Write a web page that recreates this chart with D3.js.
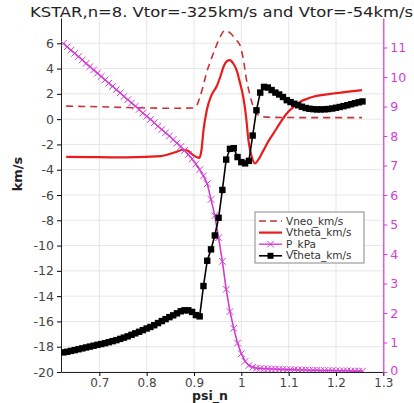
<!DOCTYPE html>
<html><head><meta charset="utf-8">
<script src="https://cdn.jsdelivr.net/npm/d3@7"></script>
<style>
body{margin:0;background:#fff;}
svg{display:block;font-family:"DejaVu Sans",sans-serif;}
</style></head>
<body>
<svg id="chart" width="414" height="403"></svg>
<script>
const titleText = "KSTAR,n=8. Vtor=-325km/s and Vtor=-54km/s";
const xTicks = [0.7, 0.8, 0.9, 1.0, 1.1, 1.2, 1.3];
const xTickLabels = ["0.7", "0.8", "0.9", "1", "1.1", "1.2", "1.3"];
const yLeftTicks = [-20, -18, -16, -14, -12, -10, -8, -6, -4, -2, 0, 2, 4, 6];
const yRightTicks = [0, 1, 2, 3, 4, 5, 6, 7, 8, 9, 10, 11];
const legendLabels = ["Vneo_km/s", "Vtheta_km/s", "P_kPa", "Vtheta_km/s"];

// Vneo (dashed red)
const vneoPsi = [0.630,0.700,0.780,0.850,0.898,0.906,0.912,0.919,0.926,0.934,0.945,0.955,0.966,0.977,0.988,0.997,1.004,1.011,1.017,1.022,1.030,1.040,1.060,1.150,1.255];
const vneoVal = [1.03,0.98,0.90,0.86,0.88,1.10,1.70,2.56,3.60,4.50,5.60,6.50,7.02,6.80,6.30,5.86,4.80,3.10,2.10,1.37,0.60,0.24,0.15,0.12,0.12];

// Vtheta (solid red)
const vthPsi = [0.630,0.680,0.730,0.780,0.830,0.860,0.877,0.887,0.897,0.905,0.911,0.916,0.920,0.927,0.937,0.948,0.956,0.963,0.970,0.976,0.983,0.990,0.997,1.004,1.010,1.015,1.022,1.029,1.036,1.047,1.058,1.068,1.082,1.096,1.110,1.124,1.138,1.152,1.173,1.194,1.222,1.255];
const vthVal = [-2.98,-3.00,-3.02,-3.00,-2.92,-2.62,-2.42,-2.50,-2.80,-3.00,-3.06,-2.40,-0.90,0.70,1.90,2.60,3.40,4.20,4.60,4.67,4.40,3.88,2.90,1.77,0.20,-1.66,-2.98,-3.50,-3.20,-2.45,-1.70,-1.13,-0.30,0.45,0.95,1.37,1.60,1.77,1.92,2.03,2.15,2.30];

// shared grid for marker series
const gridPsi = [0.624,0.632,0.640,0.648,0.656,0.664,0.672,0.680,0.688,0.696,0.704,0.712,0.720,0.728,0.736,0.744,0.752,0.760,0.768,0.776,0.784,0.792,0.800,0.808,0.816,0.824,0.832,0.840,0.848,0.856,0.864,0.872,0.880,0.888,0.896,0.904,0.912,0.920,0.928,0.936,0.944,0.952,0.960,0.968,0.976,0.984,0.992,1.000,1.008,1.016,1.024,1.032,1.040,1.048,1.056,1.064,1.072,1.080,1.088,1.096,1.104,1.112,1.120,1.128,1.136,1.144,1.152,1.160,1.168,1.176,1.184,1.192,1.200,1.208,1.216,1.224,1.232,1.240,1.248,1.256];

// P_kPa (magenta, right axis)
const pVal = [11.14,11.02,10.91,10.80,10.69,10.58,10.46,10.35,10.24,10.13,10.02,9.90,9.79,9.68,9.57,9.46,9.34,9.23,9.12,9.01,8.90,8.78,8.67,8.56,8.45,8.33,8.22,8.11,8.00,7.88,7.76,7.64,7.51,7.37,7.22,7.05,6.86,6.65,6.38,5.85,5.30,4.55,3.75,2.80,2.05,1.48,0.98,0.62,0.36,0.22,0.16,0.13,0.12,0.11,0.11,0.10,0.10,0.09,0.09,0.08,0.08,0.08,0.07,0.07,0.07,0.06,0.06,0.06,0.05,0.05,0.05,0.05,0.04,0.04,0.04,0.04,0.03,0.03,0.03,0.03];

// Vtheta (black squares)
const vthBlackVal = [-18.45,-18.40,-18.33,-18.27,-18.20,-18.13,-18.06,-17.99,-17.92,-17.85,-17.79,-17.72,-17.64,-17.56,-17.48,-17.38,-17.28,-17.18,-17.06,-16.94,-16.82,-16.69,-16.56,-16.44,-16.30,-16.13,-15.97,-15.82,-15.66,-15.52,-15.36,-15.20,-15.12,-15.12,-15.25,-15.50,-15.60,-13.20,-11.20,-10.30,-9.20,-7.80,-5.60,-3.20,-2.35,-2.30,-3.00,-3.40,-3.50,-3.30,-1.30,0.70,2.10,2.55,2.50,2.30,2.10,1.95,1.75,1.50,1.35,1.22,1.10,0.98,0.88,0.82,0.79,0.77,0.77,0.78,0.80,0.84,0.90,0.96,1.03,1.10,1.18,1.26,1.33,1.40];

const svg = d3.select("#chart");
const L = 61, R = 383.3, T = 18, B = 372;
const x = d3.scaleLinear().domain([0.619, 1.3]).range([L, R]);
const yL = d3.scaleLinear().domain([-20, 8]).range([B, T]);
const yR = d3.scaleLinear().domain([0, 12]).range([B, T]);

const magenta = "#d23cd2";
const darkRed = "#c83232";
const red = "#e81c1c";

// grid
const g = svg.append("g");
g.selectAll(".vg").data(xTicks).join("line")
  .attr("x1", d => x(d)).attr("x2", d => x(d)).attr("y1", T).attr("y2", B)
  .attr("stroke", "#e6e6e6").attr("stroke-width", 1);
g.selectAll(".hg").data(yLeftTicks).join("line")
  .attr("x1", L).attr("x2", R).attr("y1", d => yL(d)).attr("y2", d => yL(d))
  .attr("stroke", "#e6e6e6").attr("stroke-width", 1);

// axes
const axB = svg.append("g").attr("transform", `translate(0,${B})`)
  .call(d3.axisBottom(x).tickValues(xTicks).tickFormat((d, i) => xTickLabels[i]).tickSize(4).tickPadding(2).tickSizeOuter(0));
const axL = svg.append("g").attr("transform", `translate(${L},0)`)
  .call(d3.axisLeft(yL).tickValues(yLeftTicks).tickSize(4).tickSizeOuter(0).tickFormat(d => d));
const axR = svg.append("g").attr("transform", `translate(${R},0)`)
  .call(d3.axisRight(yR).tickValues(yRightTicks).tickSize(4).tickSizeOuter(0));
axB.selectAll("text").attr("font-family", "DejaVu Sans").attr("font-size", 12).attr("fill", "#444");
axL.selectAll("text").attr("font-family", "DejaVu Sans").attr("font-size", 12.5).attr("fill", "#444");
axR.selectAll("text").attr("font-family", "DejaVu Sans").attr("font-size", 12.5);
axB.select(".domain").attr("stroke", "#222");
axL.select(".domain").attr("stroke", "#222");
axR.select(".domain").attr("stroke", magenta).attr("stroke-width", 1.2);
axR.selectAll("line").attr("stroke", magenta);
axR.selectAll("text").attr("fill", magenta);
axR.selectAll(".tick").filter(d => d === 0).select("text").attr("dy", "0.2em").attr("x", 7);

// lines
const clip = svg.append("defs").append("clipPath").attr("id", "clip")
  .append("rect").attr("x", L).attr("y", T).attr("width", R - L).attr("height", B - T);
const plot = svg.append("g").attr("clip-path", "url(#clip)");

const lineL = d3.line().x(d => x(d[0])).y(d => yL(d[1])).curve(d3.curveMonotoneX);
const lineR = d3.line().x(d => x(d[0])).y(d => yR(d[1]));
const lineLs = d3.line().x(d => x(d[0])).y(d => yL(d[1]));

plot.append("path").datum(d3.zip(vneoPsi, vneoVal)).attr("d", lineL)
  .attr("fill", "none").attr("stroke", darkRed).attr("stroke-width", 1.6).attr("stroke-dasharray", "7,5");
plot.append("path").datum(d3.zip(vthPsi, vthVal)).attr("d", lineL)
  .attr("fill", "none").attr("stroke", red).attr("stroke-width", 2.2);

const pData = d3.zip(gridPsi, pVal);
plot.append("path").datum(pData).attr("d", lineR)
  .attr("fill", "none").attr("stroke", magenta).attr("stroke-width", 1.6);
const cross = d3.symbol().type(d3.symbolX).size(30);
plot.selectAll(".px").data(pData).join("path")
  .attr("transform", d => `translate(${x(d[0])},${yR(d[1])})`)
  .attr("d", cross).attr("fill", "none").attr("stroke", magenta).attr("stroke-width", 1);

const bData = d3.zip(gridPsi, vthBlackVal);
plot.append("path").datum(bData).attr("d", lineLs)
  .attr("fill", "none").attr("stroke", "#000").attr("stroke-width", 1.6);
plot.selectAll(".bs").data(bData).join("rect")
  .attr("x", d => x(d[0]) - 3.2).attr("y", d => yL(d[1]) - 3.2)
  .attr("width", 6.4).attr("height", 6.4).attr("fill", "#000");

// legend
const lg = svg.append("g").attr("transform", "translate(255,212)");
lg.append("rect").attr("width", 109).attr("height", 51).attr("fill", "#fff").attr("stroke", "#888").attr("stroke-width", 1);
const rows = lg.selectAll(".row").data(legendLabels).join("g")
  .attr("transform", (d, i) => `translate(0,${9 + i * 11.6})`);
rows.append("text").attr("x", 31).attr("y", 0).attr("dy", "0.35em")
  .attr("font-size", 10.5).attr("fill", "#333").text(d => d);
rows.each(function(d, i) {
  const r = d3.select(this);
  if (i === 0) r.append("line").attr("x1", 4).attr("x2", 27).attr("stroke", darkRed).attr("stroke-width", 1.6).attr("stroke-dasharray", "7,4");
  if (i === 1) r.append("line").attr("x1", 4).attr("x2", 27).attr("stroke", red).attr("stroke-width", 2.2);
  if (i === 2) {
    r.append("line").attr("x1", 4).attr("x2", 27).attr("stroke", magenta).attr("stroke-width", 1.4);
    r.append("path").attr("transform", "translate(15.5,0)").attr("d", cross).attr("fill", "none").attr("stroke", magenta);
  }
  if (i === 3) {
    r.append("line").attr("x1", 4).attr("x2", 27).attr("stroke", "#000").attr("stroke-width", 1.6);
    r.append("rect").attr("x", 12.5).attr("y", -3).attr("width", 6).attr("height", 6).attr("fill", "#000");
  }
});

// titles
svg.append("text").attr("x", 30).attr("y", 17).attr("font-size", 14.5).attr("fill", "#222")
  .attr("textLength", 383).attr("lengthAdjust", "spacingAndGlyphs").text(titleText);
svg.append("text").attr("transform", "translate(22,174) rotate(-90)").attr("text-anchor", "middle")
  .attr("font-size", 13).attr("font-weight", "bold").attr("fill", "#222").text("km/s");
svg.append("text").attr("x", 210).attr("y", 400).attr("text-anchor", "middle")
  .attr("font-size", 12.5).attr("font-weight", "bold").attr("fill", "#222").text("psi_n");
</script>
</body></html>
